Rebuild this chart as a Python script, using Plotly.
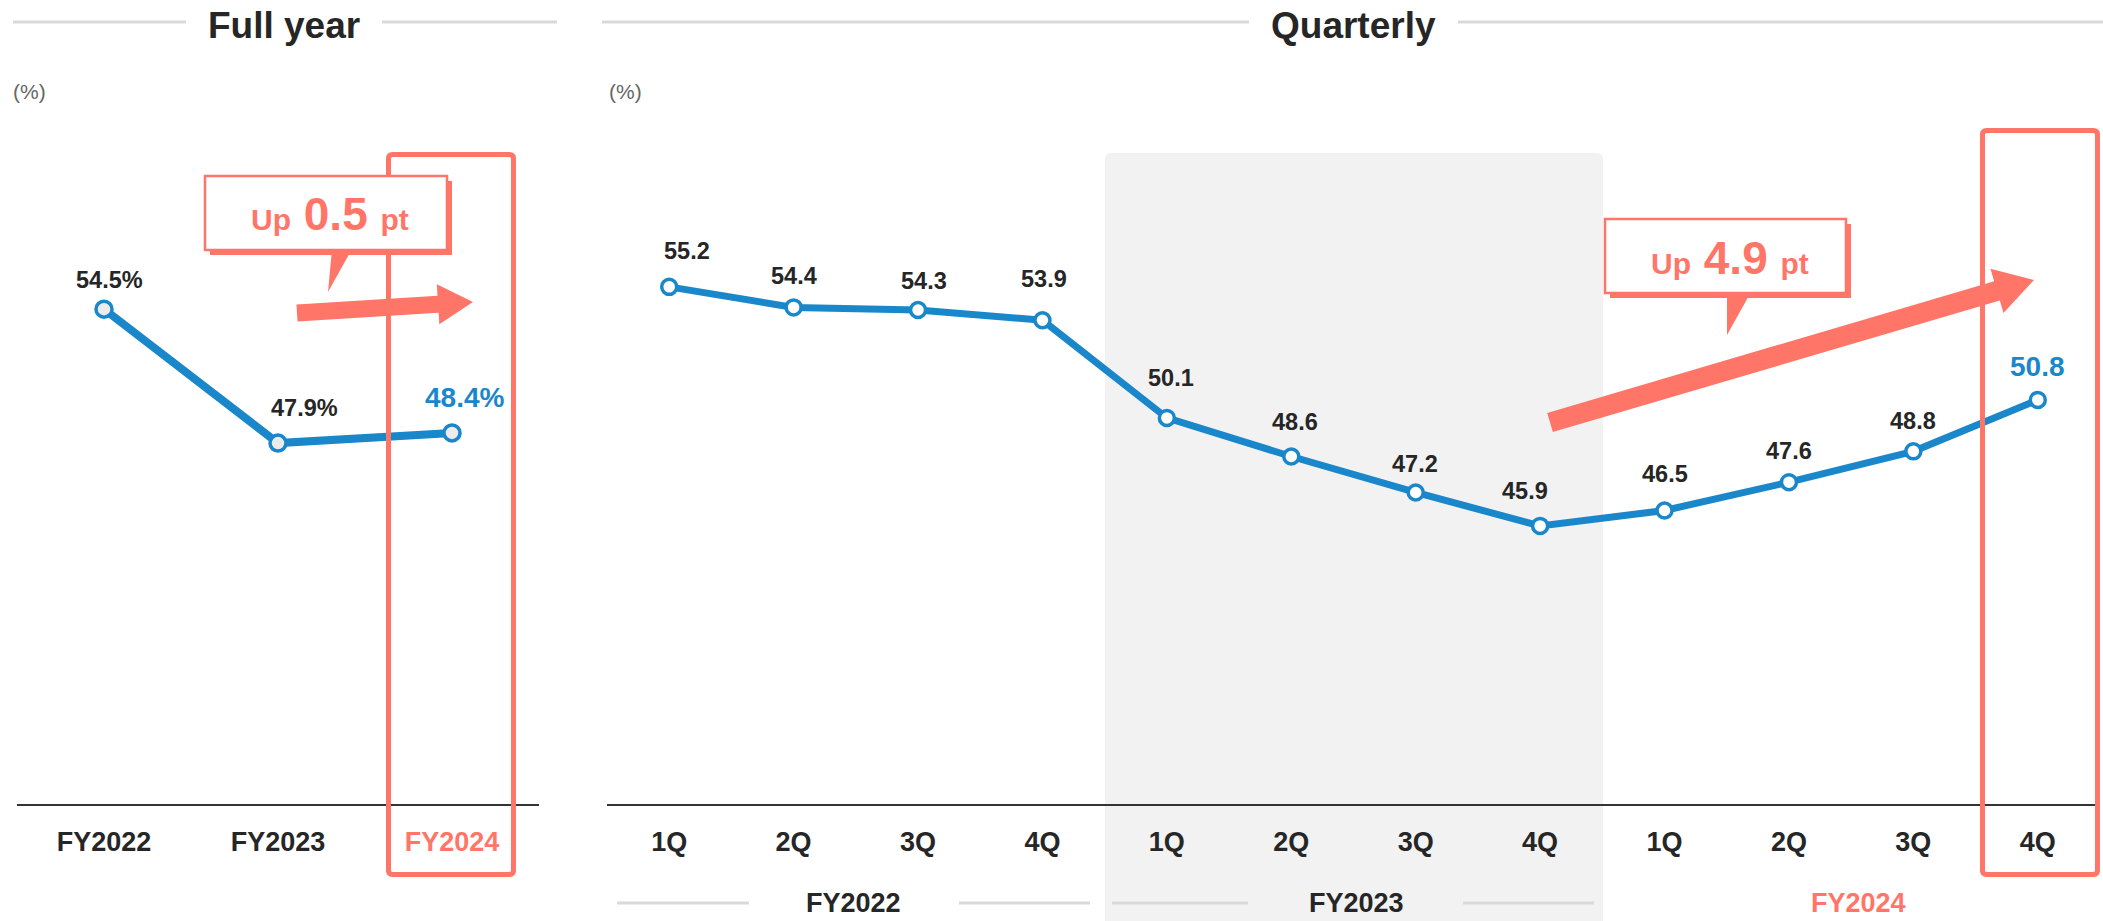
import plotly.graph_objects as go

# ---- data ----
fy_categories = ["FY2022", "FY2023", "FY2024"]
fy_values = [54.5, 47.9, 48.4]
fy_labels = ["54.5%", "47.9%", "48.4%"]

q_categories = ["1Q", "2Q", "3Q", "4Q", "1Q", "2Q", "3Q", "4Q", "1Q", "2Q", "3Q", "4Q"]
q_values = [55.2, 54.4, 54.3, 53.9, 50.1, 48.6, 47.2, 45.9, 46.5, 47.6, 48.8, 50.8]
q_groups = ["FY2022", "FY2023", "FY2024"]

fy_change = "0.5"
q_change = "4.9"

# ---- styling ----
W, H = 2103, 921
BLUE = "#1b87cb"
SALMON = "#ff7669"
DARK = "#262626"
LIGHT = "#d9d9d9"
SHADE = "#f2f2f2"
FONT = "Liberation Sans"

# label offsets (x, y) in pixels relative to each point
fy_offsets = [(5, 29), (26, 35), (12, 35)]
q_offsets = [(18, 36), (0, 31), (6, 29), (2, 41), (4, 40), (4, 34), (-1, 28),
             (-15, 35), (0, 36), (0, 31), (0, 30), (0, 33)]


def px(x):
    return x / W


def py(y):
    return 1 - y / H


def poly(pts):
    return "M " + " L ".join(f"{px(x):.5f},{py(y):.5f}" for x, y in pts) + " Z"


def rrect(x0, y0, x1, y1, r, top_only=False):
    rb = 0 if top_only else r
    p = [f"M {px(x0 + r):.5f},{py(y0):.5f}",
         f"L {px(x1 - r):.5f},{py(y0):.5f}",
         f"Q {px(x1):.5f},{py(y0):.5f} {px(x1):.5f},{py(y0 + r):.5f}",
         f"L {px(x1):.5f},{py(y1 - rb):.5f}"]
    if rb:
        p.append(f"Q {px(x1):.5f},{py(y1):.5f} {px(x1 - rb):.5f},{py(y1):.5f}")
    p.append(f"L {px(x0 + rb):.5f},{py(y1):.5f}")
    if rb:
        p.append(f"Q {px(x0):.5f},{py(y1):.5f} {px(x0):.5f},{py(y1 - rb):.5f}")
    p.append(f"L {px(x0):.5f},{py(y0 + r):.5f}")
    p.append(f"Q {px(x0):.5f},{py(y0):.5f} {px(x0 + r):.5f},{py(y0):.5f} Z")
    return " ".join(p)


def arrow(start, tip, shaft_hw, head_hw, head_len):
    dx, dy = tip[0] - start[0], tip[1] - start[1]
    ln = (dx * dx + dy * dy) ** 0.5
    ux, uy = dx / ln, dy / ln
    nx, ny = -uy, ux
    bx, by = tip[0] - ux * head_len, tip[1] - uy * head_len
    return poly([
        (start[0] + nx * shaft_hw, start[1] + ny * shaft_hw),
        (bx + nx * shaft_hw, by + ny * shaft_hw),
        (bx + nx * head_hw, by + ny * head_hw),
        tip,
        (bx - nx * head_hw, by - ny * head_hw),
        (bx - nx * shaft_hw, by - ny * shaft_hw),
        (start[0] - nx * shaft_hw, start[1] - ny * shaft_hw),
    ])


def paper_text(text, x, y, size, color, **kw):
    return dict(x=px(x), y=py(y), xref="paper", yref="paper", text=text,
                showarrow=False, xanchor="center", yanchor="middle",
                font=dict(family=FONT, size=size, color=color), **kw)


fig = go.Figure()

fig.add_trace(go.Scatter(
    x=list(range(len(fy_values))), y=fy_values, mode="lines+markers",
    line=dict(color=BLUE, width=8),
    marker=dict(symbol="circle", size=16, color="#ececec", line=dict(color=BLUE, width=3.5)),
    xaxis="x", yaxis="y", hoverinfo="skip", showlegend=False,
))
fig.add_trace(go.Scatter(
    x=list(range(len(q_values))), y=q_values, mode="lines+markers",
    line=dict(color=BLUE, width=7),
    marker=dict(symbol="circle", size=15, color="white", line=dict(color=BLUE, width=3.5)),
    xaxis="x2", yaxis="y2", hoverinfo="skip", showlegend=False,
))

annotations = []

# value labels
for i, (v, lab) in enumerate(zip(fy_values, fy_labels)):
    last = i == len(fy_values) - 1
    annotations.append(dict(
        x=i, y=v, xref="x", yref="y", text=f"<b>{lab}</b>", showarrow=False,
        xanchor="center", yanchor="middle",
        xshift=fy_offsets[i][0], yshift=fy_offsets[i][1],
        font=dict(family=FONT, size=28 if last else 23.5, color=BLUE if last else DARK),
    ))
for i, v in enumerate(q_values):
    last = i == len(q_values) - 1
    annotations.append(dict(
        x=i, y=v, xref="x2", yref="y2", text=f"<b>{v:.1f}</b>", showarrow=False,
        xanchor="center", yanchor="middle",
        xshift=q_offsets[i][0], yshift=q_offsets[i][1],
        font=dict(family=FONT, size=28 if last else 23.5, color=BLUE if last else DARK),
    ))

# section titles and unit labels
for text, cx in [("Full year", 283.5), ("Quarterly", 1353)]:
    annotations.append(paper_text(f"<b>{text}</b>", cx, 25, 37, DARK))
for cx in [29, 625]:
    annotations.append(paper_text("(%)", cx, 91, 21, "#666666"))

# fiscal-year group labels under the quarterly axis
group_centers = [853, 1356, 1858]
for g, cx in zip(q_groups, group_centers):
    annotations.append(paper_text(f"<b>{g}</b>", cx, 903, 27,
                                  SALMON if g == q_groups[-1] else DARK))

# callout texts
for ch, cx, cy in [(fy_change, 330, 214), (q_change, 1730, 258)]:
    annotations.append(paper_text(
        f"<b>Up<span style='font-size:46px'> {ch} </span>pt</b>", cx, cy, 30, SALMON))

shapes = []
# shaded FY2023 band
shapes.append(dict(type="path", path=rrect(1105, 153, 1603, 921, 6, top_only=True),
                   xref="paper", yref="paper", fillcolor=SHADE, line=dict(width=0),
                   layer="below"))
# title rules
for x0, x1 in [(13, 186), (382, 557), (602, 1249), (1458, 2103)]:
    shapes.append(dict(type="line", x0=px(x0), x1=px(x1), y0=py(22), y1=py(22),
                       xref="paper", yref="paper", line=dict(color=LIGHT, width=3)))
# group rules
for x0, x1 in [(617, 749), (959, 1090), (1112, 1248), (1463, 1594)]:
    shapes.append(dict(type="line", x0=px(x0), x1=px(x1), y0=py(903), y1=py(903),
                       xref="paper", yref="paper", line=dict(color=LIGHT, width=3)))
# arrows
shapes.append(dict(type="path", path=arrow((297, 313), (473, 302), 8.5, 20, 35),
                   xref="paper", yref="paper", fillcolor=SALMON, line=dict(width=0),
                   layer="above"))
shapes.append(dict(type="path", path=arrow((1550, 422.5), (2034, 280), 10, 23, 38.6),
                   xref="paper", yref="paper", fillcolor=SALMON, line=dict(width=0),
                   layer="above"))
# highlight frames
for x0, y0, x1, y1 in [(388.5, 154.5, 513.5, 874.5), (1982.5, 130.5, 2097.5, 874.5)]:
    shapes.append(dict(type="path", path=rrect(x0, y0, x1, y1, 4), xref="paper", yref="paper",
                       line=dict(color=SALMON, width=5), fillcolor="rgba(0,0,0,0)",
                       layer="above"))
# callout boxes
for (x0, y0, x1, y1), tail in [((205, 176, 447, 250), [(332, 249), (352, 249), (328, 292)]),
                               ((1605, 219, 1846, 293), [(1727, 292), (1751, 292), (1727, 335)])]:
    shapes.append(dict(type="rect", x0=px(x0 + 5), x1=px(x1 + 5), y0=py(y0 + 5), y1=py(y1 + 5),
                       xref="paper", yref="paper", fillcolor=SALMON, line=dict(width=0),
                       layer="above"))
    shapes.append(dict(type="rect", x0=px(x0), x1=px(x1), y0=py(y0), y1=py(y1),
                       xref="paper", yref="paper", fillcolor="white",
                       line=dict(color=SALMON, width=2.5), layer="above"))
    shapes.append(dict(type="path", path=poly(tail), xref="paper", yref="paper",
                       fillcolor=SALMON, line=dict(width=0), layer="above"))

y_domain = [1 - 804 / H, 1]
tick_font = dict(family=FONT, size=27, color=DARK)

fy_ticktext = [f"<b>{c}</b>" if c != fy_categories[-1]
               else f"<b><span style='color:{SALMON}'>{c}</span></b>" for c in fy_categories]

fig.update_layout(
    width=W, height=H, autosize=False,
    margin=dict(l=0, r=0, t=0, b=0),
    paper_bgcolor="white", plot_bgcolor="rgba(0,0,0,0)",
    font=dict(family=FONT, color=DARK),
    xaxis=dict(domain=[px(17), px(539)], range=[-0.5, 2.5], anchor="y",
               tickvals=list(range(len(fy_categories))), ticktext=fy_ticktext,
               showline=True, linecolor="#333333", linewidth=2, showgrid=False,
               zeroline=False, ticks="", tickfont=tick_font, ticklabelstandoff=13,
               fixedrange=True),
    yaxis=dict(domain=y_domain, range=[30.12, 69.73], anchor="x", visible=False,
               fixedrange=True),
    xaxis2=dict(domain=[px(607), px(2100)], range=[-0.5, 11.5], anchor="y2",
                tickvals=list(range(len(q_categories))),
                ticktext=[f"<b>{c}</b>" for c in q_categories],
                showline=True, linecolor="#333333", linewidth=2, showgrid=False,
                zeroline=False, ticks="", tickfont=tick_font, ticklabelstandoff=13,
                fixedrange=True),
    yaxis2=dict(domain=y_domain, range=[35.08, 66.36], anchor="x2", visible=False,
                fixedrange=True),
    annotations=annotations,
    shapes=shapes,
)

fig.write_html("out.html", config={"displayModeBar": False},
               post_script="document.body.style.margin='0';")
